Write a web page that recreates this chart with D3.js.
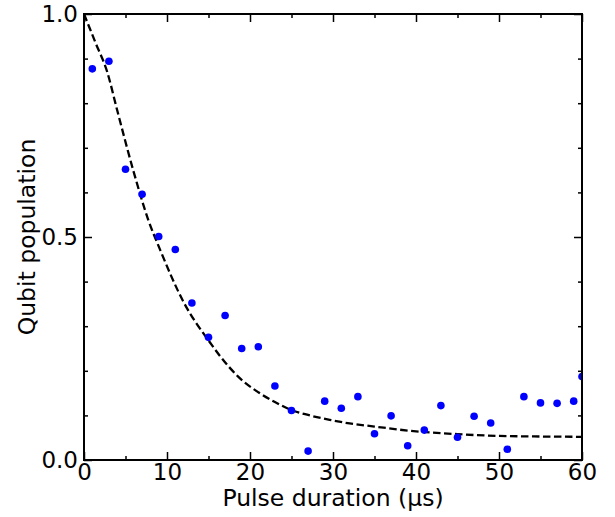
<!DOCTYPE html>
<html>
<head>
<meta charset="utf-8">
<script src="https://cdn.jsdelivr.net/npm/d3@7"></script>
<style>
  body { margin: 0; background: #fff; }
  text { font-family: "DejaVu Sans", sans-serif; fill: #000; }
  .tick line { stroke: #000; stroke-width: 1.5; }
  .tick text { font-size: 23px; }
</style>
</head>
<body>
<div id="chart"></div>
<script>
// measured points
const pulseTimes = [1, 3, 5, 7, 9, 11, 13, 15, 17, 19, 21, 23, 25, 27, 29, 31, 33, 35, 37, 39,
                    41, 43, 45, 47, 49, 51, 53, 55, 57, 59, 60];
const population = [0.877, 0.894, 0.652, 0.596, 0.501, 0.472, 0.352, 0.275, 0.324, 0.250, 0.254,
                    0.166, 0.111, 0.020, 0.132, 0.116, 0.142, 0.059, 0.099, 0.032, 0.067, 0.122,
                    0.051, 0.098, 0.083, 0.024, 0.142, 0.128, 0.127, 0.132, 0.187];

// dashed fit curve
const fitTimes = [0, 1.4, 2.8, 4, 6, 7.75, 9.2, 12, 15, 17.6, 18.8, 21, 23, 25, 27, 29.6, 32, 35, 39, 45, 50, 60];
const fitValues = [1.0, 0.935, 0.87, 0.784, 0.645, 0.538, 0.47, 0.354, 0.268, 0.206, 0.183, 0.152,
                   0.130, 0.112, 0.101, 0.090, 0.082, 0.075, 0.066, 0.058, 0.054, 0.052];

const xMajor = [0, 10, 20, 30, 40, 50, 60];
const xMinor = [5, 15, 25, 35, 45, 55];
const yMajor = [0, 0.5, 1.0];
const yMinor = [0.1, 0.2, 0.3, 0.4, 0.6, 0.7, 0.8, 0.9];
const xLabel = "Pulse duration (\u03bcs)";
const yLabel = "Qubit population";

const width = 615, height = 517;
const margin = { top: 14, right: 33, bottom: 57, left: 84 };
const w = width - margin.left - margin.right,
      h = height - margin.top - margin.bottom;

const svg = d3.select("#chart").append("svg")
    .attr("width", width)
    .attr("height", height);

const g = svg.append("g")
    .attr("transform", "translate(" + margin.left + "," + margin.top + ")");

const x = d3.scaleLinear().domain([0, 60]).range([0, w]);
const y = d3.scaleLinear().domain([0, 1]).range([h, 0]);

svg.append("defs").append("clipPath").attr("id", "plotclip")
  .append("rect").attr("width", w).attr("height", h);

const plot = g.append("g").attr("clip-path", "url(#plotclip)");

// fit
const line = d3.line()
    .x((d, i) => x(fitTimes[i]))
    .y(d => y(d))
    .curve(d3.curveMonotoneX);

plot.append("path")
    .datum(fitValues)
    .attr("d", line)
    .attr("fill", "none")
    .attr("stroke", "#000")
    .attr("stroke-width", 2.3)
    .attr("stroke-dasharray", "7.5,3.5");

plot.selectAll("circle")
    .data(population)
    .enter().append("circle")
    .attr("cx", (d, i) => x(pulseTimes[i]))
    .attr("cy", d => y(d))
    .attr("r", 3.8)
    .attr("fill", "#0000ff");

// axes, ticks pointing inward on all four sides
function addAxis(axis, tx, ty) {
  const a = g.append("g")
      .attr("transform", "translate(" + tx + "," + ty + ")")
      .call(axis);
  a.select(".domain").remove();
  return a;
}

const fmtY = d3.format(".1f");

addAxis(d3.axisBottom(x).tickValues(xMajor).tickSize(-8).tickPadding(4), 0, h);
addAxis(d3.axisBottom(x).tickValues(xMinor).tickSize(-4).tickFormat(""), 0, h);
addAxis(d3.axisTop(x).tickValues(xMajor).tickSize(-8).tickFormat(""), 0, 0);
addAxis(d3.axisTop(x).tickValues(xMinor).tickSize(-4).tickFormat(""), 0, 0);

addAxis(d3.axisLeft(y).tickValues(yMajor).tickSize(-8).tickPadding(6).tickFormat(fmtY), 0, 0);
addAxis(d3.axisLeft(y).tickValues(yMinor).tickSize(-4).tickFormat(""), 0, 0);
addAxis(d3.axisRight(y).tickValues(yMajor).tickSize(-8).tickFormat(""), w, 0);
addAxis(d3.axisRight(y).tickValues(yMinor).tickSize(-4).tickFormat(""), w, 0);

g.selectAll(".tick text").attr("font-family", null).attr("font-size", null);

g.append("rect")
    .attr("width", w)
    .attr("height", h)
    .attr("fill", "none")
    .attr("stroke", "#000")
    .attr("stroke-width", 2);

svg.append("text")
    .attr("x", margin.left + w / 2)
    .attr("y", 506)
    .attr("text-anchor", "middle")
    .style("font-size", "23.5px")
    .text(xLabel);

svg.append("text")
    .attr("transform", "translate(35," + (margin.top + h / 2) + ") rotate(-90)")
    .attr("text-anchor", "middle")
    .style("font-size", "23.5px")
    .text(yLabel);
</script>
</body>
</html>
